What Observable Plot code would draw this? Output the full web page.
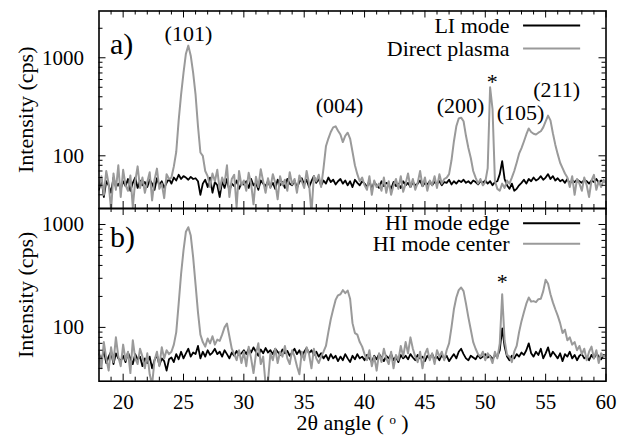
<!DOCTYPE html>
<html><head><meta charset="utf-8">
<script src="https://cdn.jsdelivr.net/npm/d3@7"></script>
<script src="https://cdn.jsdelivr.net/npm/@observablehq/plot@0.6"></script>
<style>
body{margin:0;background:#fff;}
#chart{position:relative;width:621px;height:438px;background:#fff;}
#chart svg{position:absolute;left:0;top:0;display:block;}
</style></head><body><div id="chart"></div>
<script>
// 2-theta sampling grid: 18.0 to 60.0 in 0.2 degree steps (211 samples)
const angles = d3.range(0, 211).map(i => +(18 + i * 0.2).toFixed(1));

// Panel a) LI mode (black)
const liMode = [
  45,58,38,55,50,42,60,48,52,46,
  55,49,58,44,53,60,47,56,50,54,
  48,57,52,45,59,50,55,47,53,58,
  52,60,56,64,58,62,60,57,61,58,
  59,55,40,52,57,48,60,42,54,50,
  38,55,47,58,44,52,49,56,46,53,
  51,55,47,58,50,53,45,56,52,49,
  55,48,53,46,57,50,54,47,58,52,
  50,56,47,54,59,51,57,48,55,62,
  53,58,50,56,52,60,54,57,51,55,
  58,52,56,50,55,48,57,53,50,55,
  52,48,56,45,54,50,47,55,49,53,
  51,46,54,49,52,47,55,50,53,48,
  54,50,52,56,49,53,51,55,50,54,
  52,55,50,54,53,57,51,55,52,56,
  54,57,53,55,52,56,54,51,55,53,
  56,52,55,50,54,55,65,88,58,50,
  46,52,44,46,50,53,57,52,58,55,
  60,56,58,62,57,60,65,58,62,56,
  59,55,57,53,58,52,56,54,57,55,
  53,57,55,52,56,54,58,53,56,54,
  55
];
// Panel a) Direct plasma (grey)
const directPlasma = [
  48,62,40,70,52,28,66,45,80,38,
  72,50,44,63,30,55,78,47,60,42,
  54,68,35,57,74,46,52,37,65,58,
  60,78,110,230,420,700,1100,1330,1050,700,
  420,200,108,100,70,62,48,66,55,72,
  45,60,52,80,38,58,64,30,70,50,
  56,44,67,52,32,61,48,73,55,42,
  59,47,65,53,36,62,50,57,44,68,
  51,58,42,63,55,47,70,52,26,62,
  55,64,48,75,125,150,175,195,200,180,
  165,138,160,172,150,110,80,65,55,60,
  50,45,62,40,56,48,52,44,60,42,
  55,40,50,58,46,62,43,52,66,48,
  58,45,53,70,49,60,44,56,50,62,
  47,65,52,58,60,65,90,140,200,240,
  245,225,160,120,95,70,60,52,58,50,
  54,75,500,300,55,46,44,52,47,56,
  52,60,70,85,105,120,140,165,190,175,
  168,165,172,178,195,225,257,230,170,130,
  104,85,75,66,60,48,62,40,58,52,
  44,60,50,38,56,64,45,55,48,57,
  52
];
// Panel b) HI mode edge (black)
const hiEdge = [
  55,48,60,45,52,58,44,56,50,47,
  53,46,57,50,44,55,49,52,42,50,
  45,52,40,48,54,43,50,47,38,49,
  51,46,55,49,58,50,56,62,52,57,
  55,66,50,58,52,60,54,57,62,55,
  58,52,60,55,50,57,53,59,54,56,
  60,55,62,57,64,58,53,61,56,63,
  57,60,55,62,58,54,61,56,59,53,
  57,62,55,60,52,58,63,56,60,54,
  58,52,56,50,54,48,55,50,53,47,
  52,48,55,50,46,53,49,55,50,52,
  48,54,50,46,53,49,55,51,47,53,
  50,55,48,52,46,54,50,53,49,55,
  51,48,54,50,52,47,53,50,55,49,
  52,48,54,50,53,47,51,55,50,58,
  62,55,50,48,53,51,49,54,50,52,
  55,51,53,49,54,52,60,98,65,52,
  48,53,50,55,52,57,54,60,70,56,
  52,58,54,62,50,56,64,52,58,54,
  50,56,47,55,52,58,50,54,48,53,
  55,50,52,48,54,50,56,52,49,54,
  53
];
// Panel b) HI mode center (grey)
const hiCenter = [
  58,40,72,50,38,64,46,80,52,42,
  68,48,58,36,75,50,44,62,52,40,
  56,35,28,48,58,42,64,50,60,55,
  58,68,90,170,330,560,850,940,780,480,
  260,140,85,72,65,78,70,82,68,76,
  74,85,100,109,82,62,55,48,60,45,
  58,42,65,50,36,55,70,44,52,28,
  30,56,48,62,45,58,52,66,50,44,
  60,52,42,35,58,48,64,55,40,62,
  50,45,52,58,66,90,120,150,185,205,
  210,230,215,228,190,110,88,85,72,65,
  55,48,60,42,52,38,56,46,62,50,
  44,58,40,54,48,66,52,72,56,80,
  62,52,46,58,40,55,62,48,56,44,
  60,52,58,48,60,70,100,150,195,230,
  244,225,170,125,95,72,62,55,52,58,
  48,56,52,45,58,50,70,210,75,54,
  52,46,58,66,90,115,140,170,195,178,
  180,176,188,190,225,290,265,210,175,150,
  130,110,88,95,75,80,68,72,60,66,
  55,62,48,58,65,50,60,45,56,52,
  54
];

// Ticks
const xMajor = [20, 25, 30, 35, 40, 45, 50, 55, 60];
const xMinor = [19,21,22,23,24,26,27,28,29,31,32,33,34,36,37,38,39,41,42,43,44,46,47,48,49,51,52,53,54,56,57,58,59];
const yMajor = [100, 1000];
const yMinorA = [40,50,60,70,80,90,200,300,400,500,600,700,800,900,2000];
const yMinorB = [40,50,60,70,80,90,200,300,400,500,600,700,800,900];

// Texts
const legendA = ["LI mode", "Direct plasma"];
const legendB = ["HI mode edge", "HI mode center"];
const peakLabelsA = ["(101)", "(004)", "(200)", "*", "(105)", "(211)"];
const peakAnglesA = [25.41, 37.93, 47.95, 50.58, 52.92, 55.91];
const peakCpsA = [1768, 326, 326, 573, 276, 474];
const peakLabelsB = ["*"];
const peakAnglesB = [51.4];
const peakCpsB = [279];
const yTitle = "Intensity (cps)";
const xTitle = "2\u03b8 angle ( \u1d52 )";

const FONT = "Liberation Serif";
const W = 621, H = 438, ML = 98.5, MR = 15.5;
const PW = W - ML - MR;
const GREY = "#9a9a9a";

function panel(o) {
  const PH = H - o.mt - o.mb;
  const T = {fontFamily: FONT, fill: "#000"};
  const marks = [
    Plot.line(angles, {x: d => d, y: (d, i) => o.lower[i], stroke: "#000", strokeWidth: 1.8, clip: true}),
    Plot.line(angles, {x: d => d, y: (d, i) => o.upper[i], stroke: GREY, strokeWidth: 2, clip: true}),
    Plot.tickY(yMajor, {y: d => d, insetRight: PW - 7, stroke: "#000", strokeWidth: 1}),
    Plot.tickY(o.yMinor, {y: d => d, insetRight: PW - 4, stroke: "#000", strokeWidth: 1}),
    Plot.tickY(yMajor, {y: d => d, insetLeft: PW - 7, stroke: "#000", strokeWidth: 1}),
    Plot.tickY(o.yMinor, {y: d => d, insetLeft: PW - 4, stroke: "#000", strokeWidth: 1}),
    Plot.tickX(xMajor, {x: d => d, insetBottom: PH - 7, stroke: "#000", strokeWidth: 1}),
    Plot.tickX(xMinor, {x: d => d, insetBottom: PH - 4, stroke: "#000", strokeWidth: 1}),
    Plot.tickX(xMajor, {x: d => d, insetTop: PH - 7, stroke: "#000", strokeWidth: 1}),
    Plot.tickX(xMinor, {x: d => d, insetTop: PH - 4, stroke: "#000", strokeWidth: 1}),
    Plot.frame({stroke: "#000", strokeWidth: 1.6}),
    Plot.axisY(yMajor, {tickSize: 0, tickPadding: 15, fontSize: 21, tickFormat: d => String(d), label: null, ...T}),
    Plot.text([yTitle], {text: d => d, frameAnchor: "left", textAnchor: "middle", lineAnchor: "middle", rotate: -90, dx: -73, fontSize: 22, ...T}),
    Plot.text([o.panelLabel], {text: d => d, frameAnchor: "top-left", textAnchor: "start", lineAnchor: "middle", dx: 11, dy: o.panelDy, fontSize: 30, ...T}),
    Plot.text(o.legend, {text: d => d, x: 53.17, y: (d, i) => o.legendY[i], textAnchor: "end", lineAnchor: "middle", dx: -14, fontSize: 22, ...T}),
    Plot.ruleY([o.legendY[0]], {y: d => d, x1: 53.17, x2: 57.9, stroke: "#000", strokeWidth: 2}),
    Plot.ruleY([o.legendY[1]], {y: d => d, x1: 53.17, x2: 57.9, stroke: GREY, strokeWidth: 2}),
    Plot.text(o.peakLabels, {text: d => d, x: (d, i) => o.peakAngles[i], y: (d, i) => o.peakCps[i], lineAnchor: "middle", fontSize: 22, ...T})
  ];
  if (o.showX) {
    marks.push(Plot.axisX(xMajor, {tickSize: 0, tickPadding: 13, fontSize: 21, tickFormat: d => String(d), label: null, ...T}));
    marks.push(Plot.text([xTitle], {text: d => d, frameAnchor: "bottom", textAnchor: "middle", lineAnchor: "middle", dy: 42, fontSize: 22, ...T}));
  }
  return Plot.plot({
    width: W, height: H,
    marginLeft: ML, marginRight: MR, marginTop: o.mt, marginBottom: o.mb,
    style: {fontFamily: FONT, background: "transparent", color: "#000", overflow: "visible"},
    x: {domain: [18, 60], axis: o.showX ? undefined : null},
    y: {type: "log", domain: o.yDomain},
    marks
  });
}

const a = panel({
  mt: 10.5, mb: H - 208, yDomain: [29, 3000], yMinor: yMinorA,
  lower: liMode, upper: directPlasma, panelLabel: "a)", panelDy: 33.5,
  legend: legendA, legendY: [2133, 1243],
  peakLabels: peakLabelsA, peakAngles: peakAnglesA, peakCps: peakCpsA, showX: false
});
const b = panel({
  mt: 208, mb: H - 380.7, yDomain: [30, 1430], yMinor: yMinorB,
  lower: hiEdge, upper: hiCenter, panelLabel: "b)", panelDy: 29,
  legend: legendB, legendY: [1029, 649],
  peakLabels: peakLabelsB, peakAngles: peakAnglesB, peakCps: peakCpsB, showX: true
});
document.getElementById("chart").append(a, b);
</script>
</body></html>
